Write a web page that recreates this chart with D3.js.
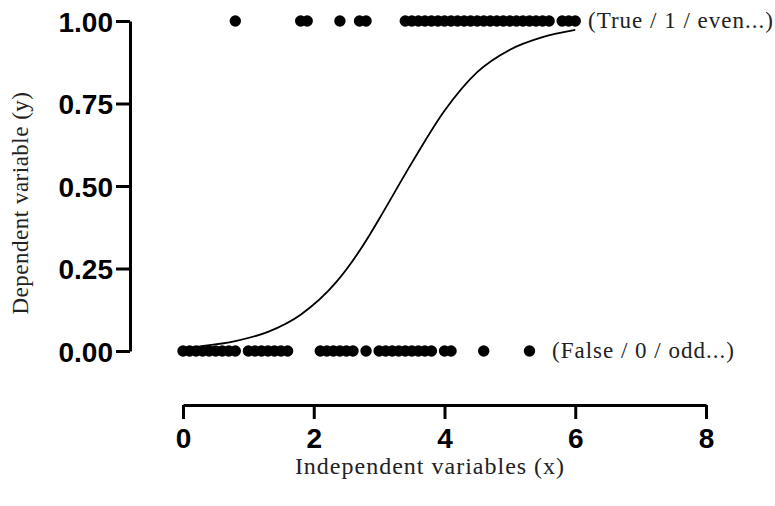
<!DOCTYPE html>
<html>
<head>
<meta charset="utf-8">
<script src="https://cdn.jsdelivr.net/npm/d3@7"></script>
<style>
  html, body { margin: 0; padding: 0; background: #fff; }
  svg { display: block; }
</style>
</head>
<body>
<svg id="chart" width="775" height="506"></svg>
<script>
// Observations coded as 1 (true) and 0 (false), by independent variable x
const trueX = [0.8, 1.8, 1.9, 2.4, 2.7, 2.8,
  3.4, 3.5, 3.6, 3.7, 3.8, 3.9, 4.0, 4.1, 4.2, 4.3, 4.4, 4.5, 4.6, 4.7, 4.8, 4.9,
  5.0, 5.1, 5.2, 5.3, 5.4, 5.5, 5.6, 5.8, 5.9, 6.0];
const falseX = [0.0, 0.1, 0.2, 0.3, 0.4, 0.5, 0.6, 0.7, 0.8,
  1.0, 1.1, 1.2, 1.3, 1.4, 1.5, 1.6,
  2.1, 2.2, 2.3, 2.4, 2.5, 2.6, 2.8,
  3.0, 3.1, 3.2, 3.3, 3.4, 3.5, 3.6, 3.7, 3.8,
  4.0, 4.1, 4.6, 5.3];

// Fitted probability curve, sampled along x
const curveX = [0.0, 0.3, 0.8, 1.3, 1.8, 2.35, 2.85, 3.0, 3.5, 4.0, 4.5, 5.0, 5.5, 6.0];
const curveY = [0.009, 0.015, 0.030, 0.058, 0.110, 0.210, 0.350, 0.400, 0.570, 0.728, 0.845, 0.913, 0.951, 0.973];

const xTicks = [0, 2, 4, 6, 8];
const yTicks = [0, 0.25, 0.5, 0.75, 1];

const svg = d3.select("#chart");

const x = d3.scaleLinear().domain([0, 8]).range([183, 706]);
const y = d3.scaleLinear().domain([0, 1]).range([351, 21]);

const sansBold = "'Liberation Sans', Arial, sans-serif";
const serif = "'Liberation Serif', 'Times New Roman', serif";

// Y axis
const yAxis = svg.append("g")
  .attr("transform", "translate(130,0)")
  .call(d3.axisLeft(y).tickValues(yTicks).tickFormat(d3.format(".2f"))
    .tickSize(14).tickSizeOuter(0).tickPadding(3));
yAxis.select(".domain").attr("stroke", "#000").attr("stroke-width", 3);
yAxis.selectAll(".tick line").attr("stroke", "#000").attr("stroke-width", 3);
yAxis.selectAll(".tick text")
  .attr("fill", "#000")
  .attr("dy", "0.36em")
  .style("font-family", sansBold)
  .style("font-weight", "bold")
  .style("font-size", "28px");

// X axis
const xAxis = svg.append("g")
  .attr("transform", "translate(0,405)")
  .call(d3.axisBottom(x).tickValues(xTicks).tickFormat(d3.format("d"))
    .tickSize(14).tickSizeOuter(0).tickPadding(9));
xAxis.select(".domain").attr("stroke", "#000").attr("stroke-width", 3);
xAxis.selectAll(".tick line").attr("stroke", "#000").attr("stroke-width", 3);
xAxis.selectAll(".tick text")
  .attr("fill", "#000")
  .style("font-family", sansBold)
  .style("font-weight", "bold")
  .style("font-size", "28px");

// Axis titles
svg.append("text")
  .attr("x", 430).attr("y", 474)
  .attr("text-anchor", "middle")
  .style("font-family", serif)
  .style("font-size", "24px")
  .style("letter-spacing", "1px")
  .attr("fill", "#222")
  .text("Independent variables (x)");

svg.append("text")
  .attr("transform", "translate(28,203) rotate(-90)")
  .attr("text-anchor", "middle")
  .style("font-family", serif)
  .style("font-size", "23px")
  .style("letter-spacing", "0.5px")
  .attr("fill", "#222")
  .text("Dependent variable (y)");

// Data points
const dots = svg.append("g").attr("fill", "#000");
dots.selectAll("circle.t").data(trueX).join("circle")
  .attr("class", "t")
  .attr("cx", d => x(d)).attr("cy", y(1)).attr("r", 5.7);
dots.selectAll("circle.f").data(falseX).join("circle")
  .attr("class", "f")
  .attr("cx", d => x(d)).attr("cy", y(0)).attr("r", 5.7);

// Probability curve
const line = d3.line()
  .x((d, i) => x(curveX[i]))
  .y(d => y(d))
  .curve(d3.curveMonotoneX);
svg.append("path")
  .datum(curveY)
  .attr("d", line)
  .attr("fill", "none")
  .attr("stroke", "#000")
  .attr("stroke-width", 1.8);

// Outcome labels
svg.append("text")
  .attr("x", 588).attr("y", y(1) + 7)
  .style("font-family", serif)
  .style("font-size", "23px")
  .style("letter-spacing", "1px")
  .attr("fill", "#222")
  .text("(True / 1 / even...)");

svg.append("text")
  .attr("x", 552).attr("y", y(0) + 7)
  .style("font-family", serif)
  .style("font-size", "23px")
  .style("letter-spacing", "1px")
  .attr("fill", "#222")
  .text("(False / 0 / odd...)");
</script>
</body>
</html>
